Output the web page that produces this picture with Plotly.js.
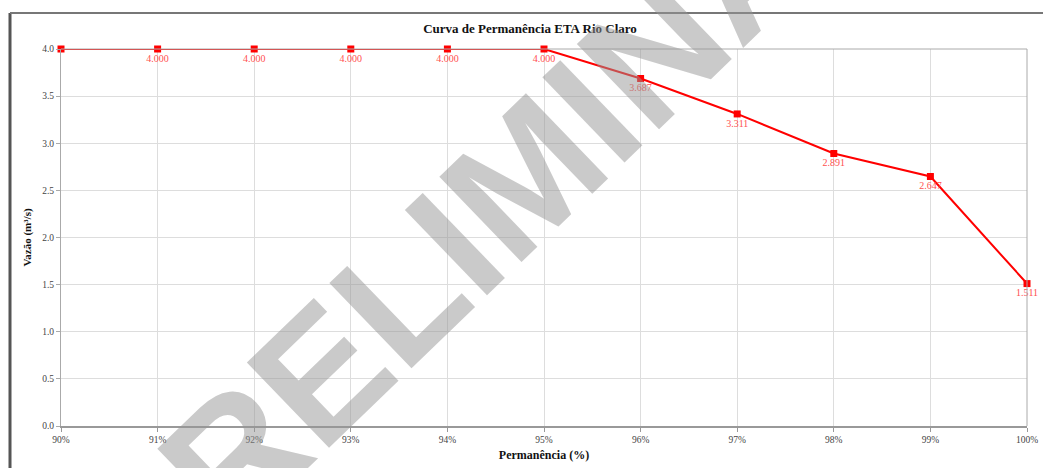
<!DOCTYPE html>
<html>
<head>
<meta charset="utf-8">
<script src="https://cdn.plot.ly/plotly-3.0.1.min.js"></script>
<style>html,body{margin:0;padding:0;background:#fff;}#chart{width:1043px;height:468px;}</style>
</head>
<body>
<div id="chart"></div>
<script>
const permanencia = [90, 91, 92, 93, 94, 95, 96, 97, 98, 99, 100];
const vazao = [4.000, 4.000, 4.000, 4.000, 4.000, 4.000, 3.687, 3.311, 2.891, 2.647, 1.511];
const pointLabels = ["", "4.000", "4.000", "4.000", "4.000", "4.000", "3.687", "3.311", "2.891", "2.647", "1.511"];
const xTickVals = [90, 91, 92, 93, 94, 95, 96, 97, 98, 99, 100];
const xTickText = ["90%", "91%", "92%", "93%", "94%", "95%", "96%", "97%", "98%", "99%", "100%"];
const chartTitle = "Curva de Permanência ETA Rio Claro";
const xTitle = "Permanência (%)";
const yTitle = "Vazão (m³/s)";
const watermark = "PRELIMINAR";

const L = 61, R = 16, T = 49, B = 42, W = 1043, H = 468;
const pw = W - L - R, ph = H - T - B;
const px = v => (v - L) / pw;
const py = v => (H - B - v) / ph;

const serif = "Liberation Serif, Times New Roman, serif";

const trace = {
  x: permanencia,
  y: vazao,
  mode: "lines+markers+text",
  type: "scatter",
  line: {color: "#ff0000", width: 2},
  marker: {symbol: "square", size: 7, color: "#ff0000"},
  text: pointLabels,
  textposition: "bottom center",
  textfont: {family: serif, size: 10, color: "#ff5050"},
  cliponaxis: false,
  hoverinfo: "x+y"
};

const layout = {
  width: W, height: H,
  margin: {l: L, r: R, t: T, b: B},
  paper_bgcolor: "#ffffff",
  plot_bgcolor: "#ffffff",
  showlegend: false,
  title: {
    text: "<b>" + chartTitle + "</b>",
    font: {family: serif, size: 13, color: "#111"},
    x: 530 / W, xref: "container", xanchor: "center",
    y: 1 - 28 / H, yref: "container", yanchor: "middle"
  },
  xaxis: {
    range: [90, 100],
    tickvals: xTickVals,
    ticktext: xTickText,
    tickfont: {family: serif, size: 9.5, color: "#444"},
    showgrid: true, gridcolor: "#dddddd", gridwidth: 1,
    showline: true, linecolor: "#999", linewidth: 1.5, mirror: false,
    ticks: "outside", ticklen: 4, tickcolor: "#999",
    zeroline: false,
    title: {text: "<b>" + xTitle + "</b>", font: {family: serif, size: 12, color: "#111"}, standoff: 6}
  },
  yaxis: {
    range: [0, 4],
    dtick: 0.5,
    tickformat: ".1f",
    tickfont: {family: serif, size: 9.5, color: "#444"},
    showgrid: true, gridcolor: "#dddddd", gridwidth: 1,
    showline: true, linecolor: "#aaa", linewidth: 1, mirror: false,
    ticks: "outside", ticklen: 4, tickcolor: "#aaa",
    zeroline: false,
    title: {text: "<b>" + yTitle + "</b>", font: {family: serif, size: 11, color: "#111"}, standoff: 8}
  },
  shapes: [
    {type: "line", xref: "paper", yref: "paper", x0: px(10), x1: px(10), y0: py(13), y1: py(470), line: {color: "#555", width: 3}},
    {type: "line", xref: "paper", yref: "paper", x0: px(10), x1: px(1045), y0: py(13), y1: py(13), line: {color: "#777", width: 2}},
    {type: "line", xref: "paper", yref: "paper", x0: 1, x1: 1, y0: 0, y1: 1, line: {color: "#aaa", width: 1}},
    {type: "line", xref: "paper", yref: "paper", x0: 0, x1: 1, y0: 1, y1: 1, line: {color: "#aaa", width: 1}}
  ],
  annotations: [
    {
      text: "<b>" + watermark + "</b>", xref: "paper", yref: "paper",
      x: px(492), y: py(207), xanchor: "center", yanchor: "middle",
      showarrow: false, textangle: -44,
      font: {family: "Liberation Sans, Arial, sans-serif", size: 172, color: "rgba(150,150,150,0.5)"}
    }
  ]
};

Plotly.newPlot("chart", [trace], layout, {displayModeBar: false, staticPlot: true});
</script>
</body>
</html>
